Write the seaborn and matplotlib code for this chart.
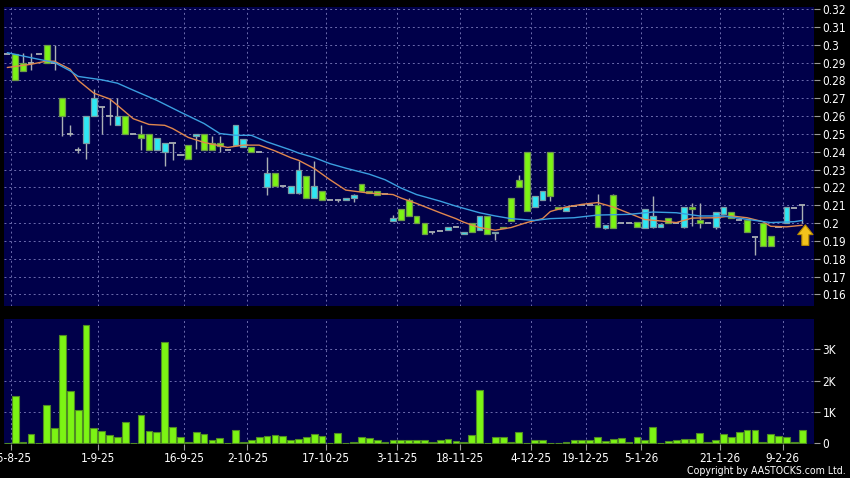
import numpy as np
import pandas as pd
import matplotlib
matplotlib.use("Agg")
import matplotlib.pyplot as plt
import seaborn as sns
from matplotlib.ticker import FixedLocator, FuncFormatter

# Daily candles (price in HKD)
opens = [
    0.295, 0.295, 0.290, 0.290, 0.295, 0.300, 0.290, 0.270, 0.250, 0.241,
    0.245, 0.260, 0.265, 0.260, 0.255, 0.260, 0.250, 0.250, 0.250, 0.241,
    0.240, 0.245, 0.238, 0.244, 0.249, 0.250, 0.245, 0.245, 0.241, 0.244,
    0.2425, 0.2425, 0.240, 0.220, 0.228, 0.221, 0.217, 0.217, 0.2265, 0.214,
    0.218, 0.213, 0.213, 0.213, 0.214, 0.222, 0.218, 0.218, 0.2165, 0.201,
    0.208, 0.213, 0.204, 0.200, 0.195, 0.1955, 0.196, 0.198, 0.194, 0.200,
    0.196, 0.204, 0.1945, 0.198, 0.214, 0.224, 0.240, 0.209, 0.213, 0.240,
    0.209, 0.207, 0.2095, 0.210, 0.210, 0.210, 0.1975, 0.216, 0.200, 0.200,
    0.2007, 0.1975, 0.198, 0.198, 0.203, 0.200, 0.198, 0.209, 0.2015, 0.200,
    0.198, 0.205, 0.206, 0.202, 0.2015, 0.192, 0.200, 0.193, 0.198, 0.200,
    0.2085, 0.210,
]
highs = [
    0.295, 0.295, 0.2955, 0.2955, 0.295, 0.300, 0.300, 0.270, 0.255, 0.2425,
    0.260, 0.275, 0.265, 0.270, 0.270, 0.260, 0.250, 0.255, 0.250, 0.2475,
    0.245, 0.245, 0.238, 0.244, 0.250, 0.250, 0.249, 0.249, 0.241, 0.255,
    0.247, 0.2425, 0.240, 0.237, 0.228, 0.221, 0.221, 0.235, 0.2265, 0.235,
    0.218, 0.213, 0.213, 0.214, 0.2165, 0.222, 0.218, 0.218, 0.2165, 0.2043,
    0.208, 0.214, 0.204, 0.200, 0.195, 0.1955, 0.198, 0.198, 0.195, 0.200,
    0.204, 0.204, 0.195, 0.198, 0.214, 0.227, 0.240, 0.215, 0.218, 0.240,
    0.209, 0.209, 0.2095, 0.210, 0.210, 0.2165, 0.199, 0.2165, 0.200, 0.200,
    0.2007, 0.208, 0.215, 0.1995, 0.203, 0.200, 0.209, 0.2115, 0.2115, 0.200,
    0.2065, 0.209, 0.206, 0.202, 0.2015, 0.192, 0.200, 0.193, 0.198, 0.209,
    0.2085, 0.210,
]
lows = [
    0.295, 0.280, 0.285, 0.2856, 0.295, 0.290, 0.2856, 0.249, 0.249, 0.2395,
    0.236, 0.260, 0.250, 0.255, 0.255, 0.250, 0.250, 0.241, 0.241, 0.241,
    0.232, 0.2355, 0.238, 0.236, 0.2418, 0.241, 0.241, 0.240, 0.241, 0.244,
    0.2425, 0.240, 0.240, 0.216, 0.221, 0.2205, 0.217, 0.2165, 0.214, 0.214,
    0.213, 0.213, 0.212, 0.213, 0.212, 0.218, 0.217, 0.216, 0.2165, 0.201,
    0.202, 0.204, 0.200, 0.194, 0.194, 0.1955, 0.196, 0.198, 0.194, 0.195,
    0.196, 0.194, 0.1905, 0.197, 0.201, 0.220, 0.207, 0.209, 0.213, 0.2125,
    0.208, 0.207, 0.2095, 0.210, 0.210, 0.198, 0.1965, 0.1975, 0.200, 0.200,
    0.198, 0.1975, 0.1975, 0.198, 0.200, 0.200, 0.197, 0.1985, 0.1975, 0.200,
    0.1965, 0.205, 0.203, 0.202, 0.195, 0.182, 0.187, 0.187, 0.198, 0.200,
    0.2085, 0.200,
]
closes = [
    0.295, 0.280, 0.285, 0.290, 0.295, 0.290, 0.290, 0.260, 0.250, 0.241,
    0.260, 0.270, 0.265, 0.260, 0.260, 0.250, 0.250, 0.2475, 0.241, 0.2475,
    0.245, 0.245, 0.238, 0.236, 0.250, 0.241, 0.241, 0.243, 0.241, 0.255,
    0.247, 0.240, 0.240, 0.228, 0.221, 0.221, 0.221, 0.230, 0.214, 0.221,
    0.213, 0.213, 0.213, 0.214, 0.216, 0.218, 0.217, 0.216, 0.2165, 0.203,
    0.202, 0.204, 0.200, 0.194, 0.195, 0.1955, 0.198, 0.198, 0.195, 0.195,
    0.204, 0.194, 0.195, 0.197, 0.201, 0.220, 0.207, 0.215, 0.218, 0.215,
    0.208, 0.209, 0.2095, 0.210, 0.210, 0.198, 0.199, 0.1975, 0.200, 0.200,
    0.198, 0.208, 0.204, 0.1995, 0.200, 0.200, 0.209, 0.208, 0.200, 0.200,
    0.2065, 0.209, 0.203, 0.202, 0.195, 0.192, 0.187, 0.187, 0.198, 0.209,
    0.2085, 0.210,
]
# Volume in thousands of shares
volumes = [
    0.02, 1.52, 0.05, 0.30, 0.02, 1.23, 0.48, 3.47, 1.66, 1.06,
    3.77, 0.49, 0.40, 0.27, 0.19, 0.69, 0.00, 0.90, 0.40, 0.35,
    3.24, 0.51, 0.21, 0.03, 0.37, 0.31, 0.09, 0.17, 0.00, 0.43,
    0.03, 0.11, 0.20, 0.22, 0.27, 0.22, 0.12, 0.15, 0.20, 0.31,
    0.22, 0.00, 0.32, 0.02, 0.05, 0.21, 0.16, 0.12, 0.05, 0.09,
    0.11, 0.11, 0.11, 0.10, 0.05, 0.10, 0.15, 0.08, 0.03, 0.28,
    1.71, 0.00, 0.21, 0.19, 0.04, 0.37, 0.00, 0.11, 0.10, 0.00,
    0.02, 0.03, 0.10, 0.11, 0.11, 0.20, 0.08, 0.13, 0.17, 0.05,
    0.19, 0.10, 0.52, 0.00, 0.08, 0.09, 0.15, 0.15, 0.34, 0.03,
    0.11, 0.30, 0.21, 0.35, 0.44, 0.42, 0.05, 0.29, 0.22, 0.21,
    0.05, 0.41,
]

# Moving averages, read at selected bars
ma_short_bar = [0, 3, 5, 6, 8, 9, 11, 13, 14, 16, 18, 20, 21, 23, 25, 28, 30, 32,
                34, 36, 37, 39, 41, 43, 46, 49, 50, 52, 55, 57, 58, 60, 62, 64,
                66, 68, 69, 71, 73, 75, 77, 79, 81, 83, 85, 87, 90, 92, 94, 96,
                97, 99, 101]
ma_short_val = [0.2872, 0.289, 0.2908, 0.2907, 0.2862, 0.280, 0.2728, 0.2696,
                0.266, 0.2585, 0.2553, 0.2548, 0.253, 0.248, 0.2452, 0.2424,
                0.2437, 0.2437, 0.2405, 0.2367, 0.2352, 0.2306, 0.2243, 0.2185,
                0.2168, 0.216, 0.2141, 0.211, 0.2058, 0.2025, 0.2005, 0.1975,
                0.196, 0.1975, 0.2003, 0.2025, 0.2065, 0.209, 0.2105, 0.2115,
                0.209, 0.2055, 0.202, 0.2012, 0.2003, 0.2028, 0.203, 0.204,
                0.203, 0.2008, 0.1982, 0.1979, 0.1988]
ma_long_bar = [0, 3, 6, 8, 9, 12, 14, 16, 19, 22, 25, 27, 29, 31, 33, 36, 37, 39,
               41, 43, 46, 48, 50, 52, 55, 57, 60, 62, 64, 67, 69, 72, 75, 79,
               82, 85, 88, 91, 94, 97, 100, 101]
ma_long_val = [0.2955, 0.2927, 0.290, 0.2853, 0.2822, 0.2803, 0.2784, 0.2745,
               0.2688, 0.2622, 0.2558, 0.2502, 0.2492, 0.2492, 0.2455, 0.241,
               0.2393, 0.2367, 0.2333, 0.2308, 0.2274, 0.2243, 0.2197, 0.216,
               0.2123, 0.2095, 0.2058, 0.204, 0.2025, 0.2015, 0.2025, 0.203,
               0.2045, 0.2049, 0.2062, 0.2058, 0.204, 0.204, 0.2021, 0.2003,
               0.2008, 0.2015]

date_labels = ["15-8-25", "1-9-25", "16-9-25", "2-10-25", "17-10-25", "3-11-25",
               "18-11-25", "4-12-25", "19-12-25", "5-1-26", "21-1-26", "9-2-26"]
date_bars = [0, 11, 22, 30, 40, 49, 57, 66, 73, 80, 90, 98]
price_ticks = [0.16, 0.17, 0.18, 0.19, 0.20, 0.21, 0.22, 0.23, 0.24,
               0.25, 0.26, 0.27, 0.28, 0.29, 0.30, 0.31, 0.32]
vol_ticks = [0, 1, 2, 3]

df = pd.DataFrame({"open": opens, "high": highs, "low": lows,
                   "close": closes, "vol": volumes})
df["bar"] = np.arange(len(df))

BG = "#00004a"
GRID = "#6c6cae"
GREEN = "#7cf414"
CYAN = "#2ee8f4"
WICK = "#aab0b4"

sns.set_theme(style="dark")
plt.rcParams["font.family"] = ["DejaVu Sans"]
plt.rcParams["font.stretch"] = "condensed"

fig = plt.figure(figsize=(8.5, 4.78), dpi=100, facecolor="black")
ax_p = fig.add_axes([4 / 850, 1 - 306 / 478, 810 / 850, 298.7 / 478])
ax_v = fig.add_axes([4 / 850, 1 - 443.5 / 478, 810 / 850, 124.5 / 478])

# --- price panel ---
up = df[df["close"] > df["open"]]
down = df[df["close"] < df["open"]]
flat = df[df["close"] == df["open"]]

ax_p.vlines(df["bar"], df["low"], df["high"], color=WICK, lw=1, zorder=2)
ax_p.bar(up["bar"], up["close"] - up["open"], bottom=up["open"], width=0.74,
         color=CYAN, edgecolor="#7a9ca4", linewidth=0.9, zorder=3)
ax_p.bar(down["bar"], down["open"] - down["close"], bottom=down["close"],
         width=0.74, color=GREEN, edgecolor="#6e9a4a", linewidth=0.9, zorder=3)
ax_p.hlines(flat["open"], flat["bar"] - 0.4, flat["bar"] + 0.4, color=WICK,
            lw=1.3, zorder=3)

sns.lineplot(x=ma_short_bar, y=ma_short_val, ax=ax_p, color="#e0874e",
             lw=1.0, zorder=4)
sns.lineplot(x=ma_long_bar, y=ma_long_val, ax=ax_p, color="#3b9fe0",
             lw=1.0, zorder=4)

# marker arrow under the last bar
last = df.iloc[-1]
ax_p.annotate("", xy=(last["bar"] + 0.4, last["low"] - 0.001),
              xytext=(last["bar"] + 0.4, last["low"] - 0.0125),
              arrowprops=dict(arrowstyle="simple,head_length=0.7,head_width=1.1,tail_width=0.5",
                              fc="#f2c21c", ec="#b88a00", lw=0.8,
                              shrinkA=0, shrinkB=0, mutation_scale=10),
              zorder=5)

ax_p.set_ylim(0.15354, 0.32094)

# --- volume panel ---
sns.barplot(data=df, x="bar", y="vol", ax=ax_v, color=GREEN, saturation=1,
            edgecolor="#4f8a24", linewidth=0.8, width=0.86, errorbar=None)
ax_v.set_ylim(-0.006, 3.97)

for ax in (ax_p, ax_v):
    ax.set_facecolor(BG)
    ax.set_xlim(-0.42, 102.5)
    ax.set_xlabel("")
    ax.set_ylabel("")
    for s in ax.spines.values():
        s.set_visible(False)
    ax.xaxis.set_major_locator(FixedLocator([b + 0.5 for b in date_bars]))
    ax.yaxis.tick_right()
    ax.grid(True, color=GRID, linestyle=(0, (2, 3)), linewidth=0.7)
    ax.set_axisbelow(True)
    ax.tick_params(axis="y", which="both", color="#9a9a9a", labelcolor="white",
                   length=4, width=0.8, pad=2, labelsize=8.5, right=True,
                   left=False, labelright=True, labelleft=False)

ax_p.yaxis.set_major_locator(FixedLocator(price_ticks))
ax_p.yaxis.set_major_formatter(FuncFormatter(lambda v, p: f"{v:g}"))
ax_p.tick_params(axis="x", length=0, labelbottom=False)

ax_v.yaxis.set_major_locator(FixedLocator(vol_ticks))
ax_v.yaxis.set_major_formatter(FuncFormatter(lambda v, p: "0" if v == 0 else f"{v:g}K"))
ax_v.set_xticklabels(date_labels)
ax_v.tick_params(axis="x", color="#9a9a9a", labelcolor="white", length=4,
                 width=0.8, pad=2, labelsize=8.5, bottom=True)
# volume grid only on the K lines, not on the zero line
ax_v.yaxis.grid(False)
for v in vol_ticks[1:]:
    ax_v.axhline(v, color=GRID, linestyle=(0, (2, 3)), linewidth=0.7, zorder=0)

fig.text(846 / 850, 2 / 478, "Copyright by AASTOCKS.com Ltd.", ha="right",
         va="bottom", color="white", fontsize=7.6)

fig.savefig("out.png", dpi=100, facecolor="black")
